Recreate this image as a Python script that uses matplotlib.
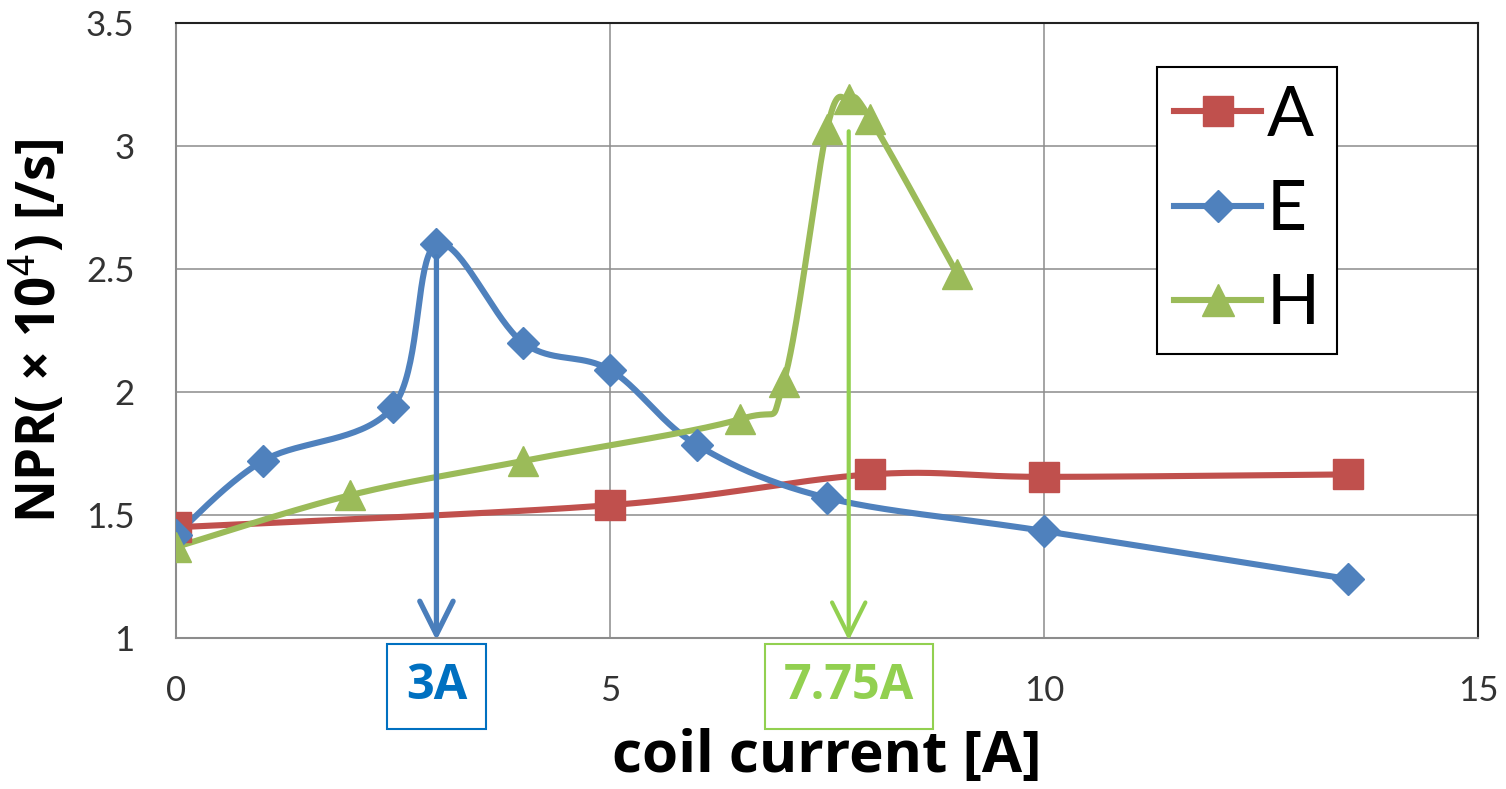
import numpy as np
import matplotlib
matplotlib.use("Agg")
import matplotlib.pyplot as plt
from matplotlib.patches import Rectangle
from matplotlib.ticker import FormatStrFormatter

# measured series (coil current [A], NPR x1e4 [/s])
a_x = [0, 5, 8, 10, 13.5]
a_y = [1.45, 1.54, 1.665, 1.655, 1.665]

e_x = [0, 1, 2.5, 3, 4, 5, 6, 7.5, 10, 13.5]
e_y = [1.42, 1.72, 1.94, 2.60, 2.20, 2.09, 1.785, 1.57, 1.435, 1.24]

h_x = [0, 2, 4, 6.5, 7, 7.5, 7.75, 8, 9]
h_y = [1.37, 1.58, 1.72, 1.89, 2.04, 3.07, 3.19, 3.11, 2.48]

# peak currents marked with arrows
peak_e = (3, 2.55)
peak_h = (7.75, 3.06)

RED, BLUE, GREEN = "#C0504D", "#4F81BD", "#9BBB59"


def smooth(xs, ys, n=40):
    """Catmull-Rom style bezier smoothing, like a spreadsheet 'smoothed line'."""
    p = np.column_stack([xs, ys]).astype(float)
    p = np.vstack([p[0], p, p[-1]])
    out = []
    t = np.linspace(0, 1, n)[:, None]
    for i in range(1, len(p) - 2):
        p0, p1, p2, p3 = p[i - 1], p[i], p[i + 1], p[i + 2]
        c1 = p1 + (p2 - p0) / 6
        c2 = p2 - (p3 - p1) / 6
        seg = ((1 - t) ** 3) * p1 + 3 * ((1 - t) ** 2) * t * c1 \
            + 3 * (1 - t) * t ** 2 * c2 + t ** 3 * p2
        out.append(seg if i == 1 else seg[1:])
    seg = np.vstack(out)
    return seg[:, 0], seg[:, 1]


fig = plt.figure(figsize=(15.06, 7.89), dpi=100)
ax = fig.add_axes([0.1169, 0.1914, 0.8645, 0.7794])

series = [
    ("A", a_x, a_y, RED, "s", 21),
    ("E", e_x, e_y, BLUE, "D", 16),
    ("H", h_x, h_y, GREEN, "^", 22),
]
for name, xs, ys, col, mk, ms in series:
    sx, sy = smooth(xs, ys)
    ax.plot(sx, sy, color=col, lw=4.4, solid_capstyle="round", zorder=3)
    ax.plot(xs, ys, ls="none", marker=mk, ms=ms, color=col, zorder=4)

# arrows down to the axis
for (px, py), col, lw in [(peak_e, "#4A7EBB", 3.8), (peak_h, "#92D050", 3.0)]:
    ax.annotate("", xy=(px, 0.99), xytext=(px, py),
                arrowprops=dict(arrowstyle="->,head_length=1.2,head_width=0.6",
                                color=col, lw=lw, mutation_scale=20,
                                shrinkA=0, shrinkB=0),
                annotation_clip=False, zorder=5)

# boxed labels under the axis
trans = ax.get_xaxis_transform()
for (px, _), txt, tcol, ecol, w in [(peak_e, "3A", "#0070C0", "#0070C0", 1.14),
                                     (peak_h, "7.75A", "#92D050", "#92D050", 1.94)]:
    ax.add_patch(Rectangle((px - w / 2, -0.148), w, 0.138, transform=trans,
                           fill=False, ec=ecol, lw=1.5, clip_on=False))
    ax.text(px, -0.079, txt, transform=trans, ha="center", va="center",
            color=tcol, fontsize=35, fontweight="bold", family="Open Sans")

ax.set_xlim(0, 15)
ax.set_ylim(1, 3.5)
ax.set_xticks([0, 5, 10, 15])
ax.set_yticks(np.arange(1, 3.51, 0.5))
ax.yaxis.set_major_formatter(FormatStrFormatter("%g"))
ax.grid(True, color="#8C8C8C", lw=1.1)
ax.set_axisbelow(True)
ax.tick_params(length=0, labelsize=25, colors="#333333")
ax.tick_params(axis="x", pad=27)
ax.tick_params(axis="y", pad=30)
for lab in ax.get_xticklabels() + ax.get_yticklabels():
    lab.set_family("Lato")

for side in ["left", "bottom"]:
    ax.spines[side].set_color("#8C8C8C")
    ax.spines[side].set_linewidth(1.5)
for side in ["top", "right"]:
    ax.spines[side].set_color("#222222")
    ax.spines[side].set_linewidth(1.5)

ax.set_xlabel("coil current [A]", fontsize=42, fontweight="bold",
              family="Open Sans", labelpad=15)
ax.set_ylabel("NPR( × 10$^{4}$) [/s]", fontsize=38, fontweight="bold",
              family="Open Sans", labelpad=12)

handles = [plt.Line2D([], [], color=c, lw=4.4, marker=m, ms=ms * 1.05)
           for _, _, _, c, m, ms in series]
leg = ax.legend(handles, [s[0] for s in series], loc="upper left",
                bbox_to_anchor=(0.7535, 0.928), prop={"family": "Lato", "size": 50},
                frameon=True, fancybox=False, edgecolor="black", framealpha=1,
                handlelength=1.25, handletextpad=0.08, labelspacing=0.45,
                borderpad=0.25, borderaxespad=0)
leg.get_frame().set_linewidth(1.5)

fig.savefig("out.png", dpi=100)
